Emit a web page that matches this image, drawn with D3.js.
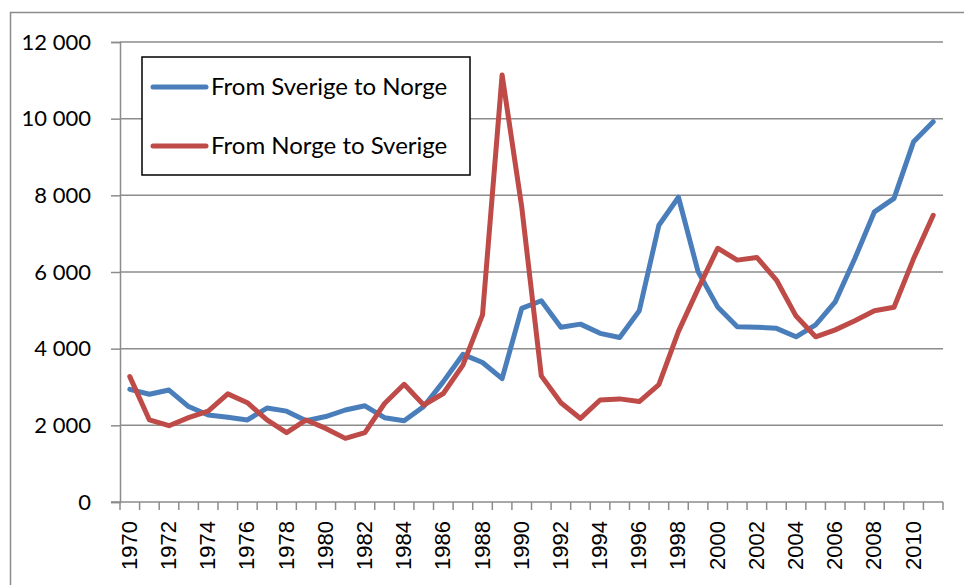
<!DOCTYPE html>
<html>
<head>
<meta charset="utf-8">
<script src="https://cdn.jsdelivr.net/npm/d3@7"></script>
<style>
  body { margin: 0; background: #fff; }
  svg { display: block; }
  .ylab { font-family: Lato, "Open Sans", sans-serif; font-size: 22px; fill: #000; }
  .xlab { font-family: "Liberation Sans", Arial, sans-serif; font-size: 22px; fill: #000; }
  .leg { font-family: Lato, "Open Sans", sans-serif; font-size: 24px; fill: #000; }
</style>
</head>
<body>
<svg id="chart" width="964" height="585"></svg>
<script>
// years on the category axis
var years = d3.range(1970, 2012);

// From Sverige to Norge
var sverigeToNorge = [2940, 2810, 2920, 2490, 2270, 2210, 2140, 2450, 2370, 2120,
  2230, 2400, 2510, 2200, 2120, 2490, 3140, 3850, 3640, 3220,
  5050, 5250, 4560, 4640, 4400, 4290, 4990, 7220, 7950, 6010,
  5090, 4570, 4560, 4530, 4310, 4620, 5220, 6350, 7570, 7920,
  9400, 9920];

// From Norge to Sverige
var norgeToSverige = [3270, 2140, 1990, 2200, 2370, 2820, 2590, 2140, 1810, 2140,
  1920, 1660, 1810, 2570, 3070, 2530, 2830, 3570, 4880, 11140,
  7700, 3290, 2590, 2180, 2660, 2690, 2620, 3060, 4450, 5560,
  6620, 6310, 6380, 5790, 4850, 4310, 4490, 4730, 4990, 5080,
  6350, 7480];

var yTicks = [0, 2000, 4000, 6000, 8000, 10000, 12000];
var xLabelYears = years.filter(function(y) { return (y - 1970) % 2 == 0; });

var series = [
  {name: "From Sverige to Norge", values: sverigeToNorge, color: "#4a7ebb"},
  {name: "From Norge to Sverige", values: norgeToSverige, color: "#be4b48"}
];

var svg = d3.select("#chart");
var plotLeft = 120, plotRight = 943, plotTop = 42, plotBottom = 502;

// outer chart border (runs off the picture to the right and bottom)
svg.append("rect")
  .attr("x", 10.5).attr("y", 12.5)
  .attr("width", 1000).attr("height", 1000)
  .attr("fill", "none").attr("stroke", "#8c8c8c").attr("stroke-width", 1.5);

var x = d3.scaleBand().domain(years).range([plotLeft, plotRight]);
var y = d3.scaleLinear().domain([0, 12000]).range([plotBottom, plotTop]);

// gridlines
svg.append("g").selectAll("line")
  .data(yTicks.slice(1))
  .enter().append("line")
  .attr("x1", plotLeft).attr("x2", plotRight)
  .attr("y1", d => y(d)).attr("y2", d => y(d))
  .attr("stroke", "#8c8c8c").attr("stroke-width", 1.5);

// y axis
var yAxis = svg.append("g")
  .attr("transform", `translate(${plotLeft},0)`)
  .call(d3.axisLeft(y).tickValues(yTicks).tickSize(9).tickPadding(20)
    .tickFormat(d => d3.format(",")(d).replace(",", " ")));
yAxis.select(".domain").attr("stroke", "#8c8c8c").attr("stroke-width", 1.5);
yAxis.selectAll(".tick line").attr("stroke", "#8c8c8c").attr("stroke-width", 1.5);
yAxis.selectAll("text").attr("class", "ylab").attr("font-size", null).attr("font-family", null);
yAxis.attr("font-size", null).attr("font-family", null);

// x axis: tick marks between categories
var xAxisG = svg.append("g");
xAxisG.append("line")
  .attr("x1", plotLeft - 9).attr("x2", plotRight)
  .attr("y1", plotBottom).attr("y2", plotBottom)
  .attr("stroke", "#8c8c8c").attr("stroke-width", 1.5);
xAxisG.selectAll(".xt")
  .data(years.concat([2012]))
  .enter().append("line")
  .attr("class", "xt")
  .attr("x1", d => d == 2012 ? plotRight : x(d)).attr("x2", d => d == 2012 ? plotRight : x(d))
  .attr("y1", plotBottom).attr("y2", plotBottom + 8)
  .attr("stroke", "#8c8c8c").attr("stroke-width", 1.5);

xAxisG.selectAll(".xlab")
  .data(xLabelYears)
  .enter().append("text")
  .attr("class", "xlab")
  .attr("transform", d => `translate(${x(d) + x.bandwidth() / 2 + 7},${plotBottom + 19}) rotate(-90)`)
  .attr("text-anchor", "end")
  .text(d => d);

// lines
var line = d3.line()
  .x((d, i) => x(years[i]) + x.bandwidth() / 2)
  .y(d => y(d));

svg.append("g").selectAll("path")
  .data(series)
  .enter().append("path")
  .attr("d", d => line(d.values))
  .attr("fill", "none")
  .attr("stroke", d => d.color)
  .attr("stroke-width", 5)
  .attr("stroke-linejoin", "round")
  .attr("stroke-linecap", "round");

// legend
var legend = svg.append("g");
legend.append("rect")
  .attr("x", 142).attr("y", 57)
  .attr("width", 328).attr("height", 118)
  .attr("fill", "#fff").attr("stroke", "#000").attr("stroke-width", 1.5);

var legItems = legend.selectAll(".item")
  .data(series)
  .enter().append("g")
  .attr("class", "item")
  .attr("transform", (d, i) => `translate(0,${87 + i * 59})`);
legItems.append("line")
  .attr("x1", 153).attr("x2", 206)
  .attr("stroke", d => d.color).attr("stroke-width", 5)
  .attr("stroke-linecap", "round");
legItems.append("text")
  .attr("class", "leg")
  .attr("x", 211).attr("dy", "0.35em")
  .text(d => d.name);
</script>
</body>
</html>
